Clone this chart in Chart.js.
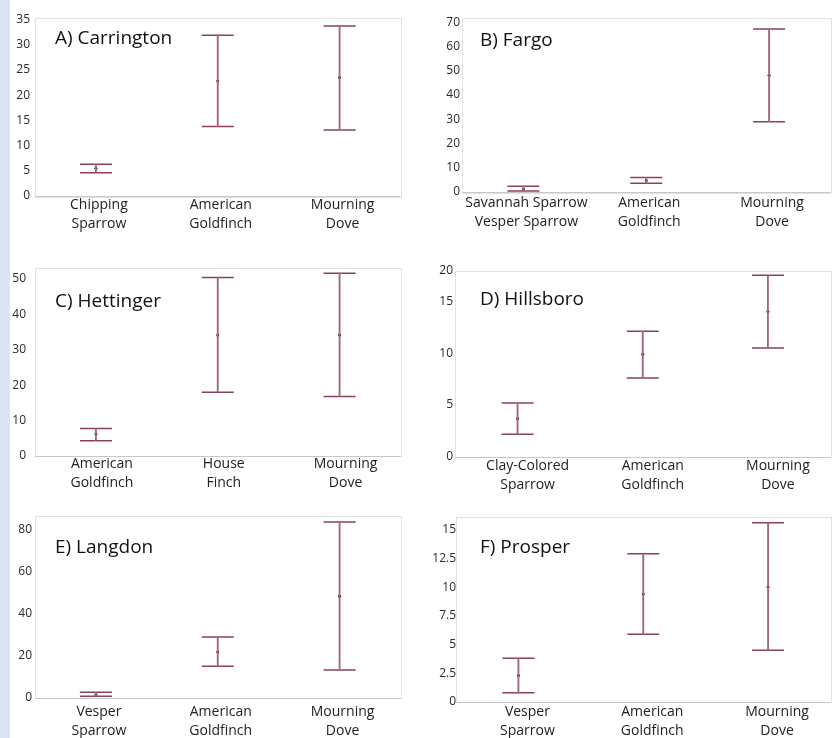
<!DOCTYPE html>
<html>
<head>
<meta charset="utf-8">
<script src="https://cdn.jsdelivr.net/npm/chart.js@4.4.1/dist/chart.umd.min.js"></script>
<style>
  html, body { margin: 0; padding: 0; width: 838px; height: 738px; overflow: hidden; background: #fff; }
  .strip { position: absolute; left: 0; top: 0; width: 10px; height: 738px; background: #dde5f5; }
  canvas { position: absolute; }
</style>
</head>
<body>
<div class="strip"></div>
<canvas id="chart-a"></canvas>
<canvas id="chart-b"></canvas>
<canvas id="chart-c"></canvas>
<canvas id="chart-d"></canvas>
<canvas id="chart-e"></canvas>
<canvas id="chart-f"></canvas>
<script>
/* ================= DATA ================= */
// A) Carrington
const carringtonBirds = [['Chipping', 'Sparrow'], ['American', 'Goldfinch'], ['Mourning', 'Dove']];
const carringtonMean = [5.5, 22.8, 23.5];
const carringtonLow = [4.6, 13.8, 13.1];
const carringtonHigh = [6.3, 31.9, 33.7];
const carringtonTicks = [0, 5, 10, 15, 20, 25, 30, 35];
const carringtonTickLabels = ['0', '5', '10', '15', '20', '25', '30', '35'];

// B) Fargo
const fargoBirds = [['Savannah Sparrow', 'Vesper Sparrow'], ['American', 'Goldfinch'], ['Mourning', 'Dove']];
const fargoMean = [1.2, 4.7, 48.2];
const fargoLow = [0.4, 3.6, 29.0];
const fargoHigh = [2.4, 6.0, 67.3];
const fargoTicks = [0, 10, 20, 30, 40, 50, 60, 70];
const fargoTickLabels = ['0', '10', '20', '30', '40', '50', '60', '70'];

// C) Hettinger
const hettingerBirds = [['American', 'Goldfinch'], ['House', 'Finch'], ['Mourning', 'Dove']];
const hettingerMean = [6.2, 34.2, 34.2];
const hettingerLow = [4.3, 18.0, 16.8];
const hettingerHigh = [7.8, 50.4, 51.6];
const hettingerTicks = [0, 10, 20, 30, 40, 50];
const hettingerTickLabels = ['0', '10', '20', '30', '40', '50'];

// D) Hillsboro (top label sits at the plot edge in the original)
const hillsboroBirds = [['Clay-Colored', 'Sparrow'], ['American', 'Goldfinch'], ['Mourning', 'Dove']];
const hillsboroMean = [3.7, 9.9, 14.0];
const hillsboroLow = [2.2, 7.6, 10.5];
const hillsboroHigh = [5.2, 12.1, 17.5];
const hillsboroTicks = [0, 5, 10, 15, 17.9];
const hillsboroTickLabels = ['0', '5', '10', '15', '20'];

// E) Langdon
const langdonBirds = [['Vesper', 'Sparrow'], ['American', 'Goldfinch'], ['Mourning', 'Dove']];
const langdonMean = [1.7, 21.8, 48.2];
const langdonLow = [0.8, 15.0, 13.3];
const langdonHigh = [2.7, 28.9, 83.4];
const langdonTicks = [0, 20, 40, 60, 80];
const langdonTickLabels = ['0', '20', '40', '60', '80'];

// F) Prosper
const prosperBirds = [['Vesper', 'Sparrow'], ['American', 'Goldfinch'], ['Mourning', 'Dove']];
const prosperMean = [2.3, 9.4, 10.0];
const prosperLow = [0.8, 5.9, 4.5];
const prosperHigh = [3.8, 12.9, 15.6];
const prosperTicks = [0, 2.5, 5, 7.5, 10, 12.5, 15];
const prosperTickLabels = ['0', '2.5', '5', '7.5', '10', '12.5', '15'];

/* ================= STYLE ================= */
const FONT = "'Open Sans', 'DejaVu Sans', sans-serif";
const CAP_COLOR = '#8a4254';
const STEM_COLOR = '#a26676';
const DOT_COLOR = '#1e1518';

/* ================= PANELS ================= */
// canvas box + chart area insets, all in page pixels
const panels = [
  { id: 'chart-a', title: 'A) Carrington', labels: carringtonBirds, mean: carringtonMean, low: carringtonLow, high: carringtonHigh,
    ticks: carringtonTicks, tickLabels: carringtonTickLabels, max: 35.4,
    x: 10, y: 0, w: 408, h: 250, axisW: 25, padTop: 12, padRight: 4, xAxisH: 54, tickPad: 5, labelPad: -1, labelShift: 3, titleDx: 20, titleDy: 21 },
  { id: 'chart-b', title: 'B) Fargo', labels: fargoBirds, mean: fargoMean, low: fargoLow, high: fargoHigh,
    ticks: fargoTicks, tickLabels: fargoTickLabels, max: 72,
    x: 418, y: 0, w: 430, h: 250, axisW: 44, padTop: 10, padRight: 5, xAxisH: 58, tickPad: 2, labelPad: 1.5, labelShift: 3, titleDx: 18, titleDy: 23 },
  { id: 'chart-c', title: 'C) Hettinger', labels: hettingerBirds, mean: hettingerMean, low: hettingerLow, high: hettingerHigh,
    ticks: hettingerTicks, tickLabels: hettingerTickLabels, max: 53.1,
    x: 10, y: 250, w: 408, h: 245, axisW: 25, padTop: 18, padRight: 6, xAxisH: 39, tickPad: 9, labelPad: -2, labelShift: 6, titleDx: 20, titleDy: 34 },
  { id: 'chart-d', title: 'D) Hillsboro', labels: hillsboroBirds, mean: hillsboroMean, low: hillsboroLow, high: hillsboroHigh,
    ticks: hillsboroTicks, tickLabels: hillsboroTickLabels, max: 17.9,
    x: 418, y: 250, w: 430, h: 245, axisW: 37, padTop: 21, padRight: 8, xAxisH: 38, tickPad: 2, labelPad: -0.5, labelShift: 10, titleDx: 25, titleDy: 29 },
  { id: 'chart-e', title: 'E) Langdon', labels: langdonBirds, mean: langdonMean, low: langdonLow, high: langdonHigh,
    ticks: langdonTicks, tickLabels: langdonTickLabels, max: 86.3,
    x: 10, y: 495, w: 408, h: 243, axisW: 25, padTop: 21, padRight: 8, xAxisH: 40, tickPad: 3, labelPad: 4, labelShift: 3, titleDx: 20, titleDy: 32 },
  { id: 'chart-f', title: 'F) Prosper', labels: prosperBirds, mean: prosperMean, low: prosperLow, high: prosperHigh,
    ticks: prosperTicks, tickLabels: prosperTickLabels, max: 16.1,
    x: 418, y: 495, w: 430, h: 243, axisW: 38, padTop: 22, padRight: 6, xAxisH: 36, tickPad: 0, labelPad: 0.5, labelShift: 9, titleDx: 24, titleDy: 31 }
];

/* ================= PLUGINS ================= */
// light box around the plot area, darker base line
const framePlugin = {
  id: 'frame',
  beforeDatasetsDraw(chart) {
    const { ctx, chartArea: a } = chart;
    ctx.save();
    ctx.strokeStyle = '#e2e2e2';
    ctx.lineWidth = 1;
    ctx.strokeRect(Math.round(a.left) + 0.5, Math.round(a.top) + 0.5, Math.round(a.right - a.left), Math.round(a.bottom - a.top));
    ctx.strokeStyle = '#c8c8c8';
    ctx.beginPath();
    ctx.moveTo(a.left, Math.round(a.bottom) + 0.5);
    ctx.lineTo(a.right, Math.round(a.bottom) + 0.5);
    ctx.stroke();
    ctx.restore();
  }
};

// panel title sits inside the plot area
const titlePlugin = {
  id: 'panelTitle',
  afterDraw(chart, args, opts) {
    const { ctx, chartArea: a } = chart;
    ctx.save();
    ctx.font = `19px ${FONT}`;
    ctx.fillStyle = '#111';
    ctx.textBaseline = 'middle';
    ctx.textAlign = 'left';
    ctx.fillText(opts.text, a.left + opts.dx, a.top + opts.dy);
    ctx.restore();
  }
};

function capDataset(values) {
  return {
    type: 'line',
    data: values,
    showLine: false,
    pointStyle: 'line',
    pointRadius: 16,
    pointBorderColor: CAP_COLOR,
    pointBorderWidth: 1.5
  };
}

function makePanel(p) {
  const canvas = document.getElementById(p.id);
  canvas.width = p.w;
  canvas.height = p.h;
  canvas.style.left = p.x + 'px';
  canvas.style.top = p.y + 'px';

  return new Chart(canvas, {
    type: 'bar',
    data: {
      labels: p.labels,
      datasets: [
        {
          type: 'bar',
          data: p.low.map((v, i) => [v, p.high[i]]),
          backgroundColor: STEM_COLOR,
          borderWidth: 0,
          barThickness: 1.2
        },
        capDataset(p.high),
        capDataset(p.low),
        {
          type: 'line',
          data: p.mean,
          showLine: false,
          pointStyle: 'circle',
          pointRadius: 1.5,
          pointBorderWidth: 0,
          pointBackgroundColor: DOT_COLOR
        }
      ]
    },
    options: {
      responsive: false,
      animation: false,
      events: [],
      layout: { padding: { top: p.padTop, right: p.padRight, left: 0, bottom: 0 } },
      plugins: {
        legend: { display: false },
        tooltip: { enabled: false },
        panelTitle: { text: p.title, dx: p.titleDx, dy: p.titleDy }
      },
      scales: {
        x: {
          grid: { display: false, drawTicks: false },
          border: { display: false },
          ticks: {
            color: '#222',
            font: { family: FONT, size: 14, lineHeight: 1.36 },
            padding: p.labelPad,
            labelOffset: p.labelShift,
            maxRotation: 0,
            autoSkip: false
          },
          afterFit: s => { s.height = p.xAxisH; }
        },
        y: {
          min: 0,
          max: p.max,
          grid: { display: false, drawTicks: false },
          border: { display: false },
          ticks: {
            color: '#2a2a2a',
            font: { family: FONT, size: 12 },
            padding: p.tickPad,
            callback: (v, i) => p.tickLabels[i]
          },
          afterBuildTicks: s => { s.ticks = p.ticks.map(v => ({ value: v })); },
          afterFit: s => { s.width = p.axisW; }
        }
      }
    },
    plugins: [framePlugin, titlePlugin]
  });
}

panels.forEach(makePanel);
</script>
</body>
</html>
